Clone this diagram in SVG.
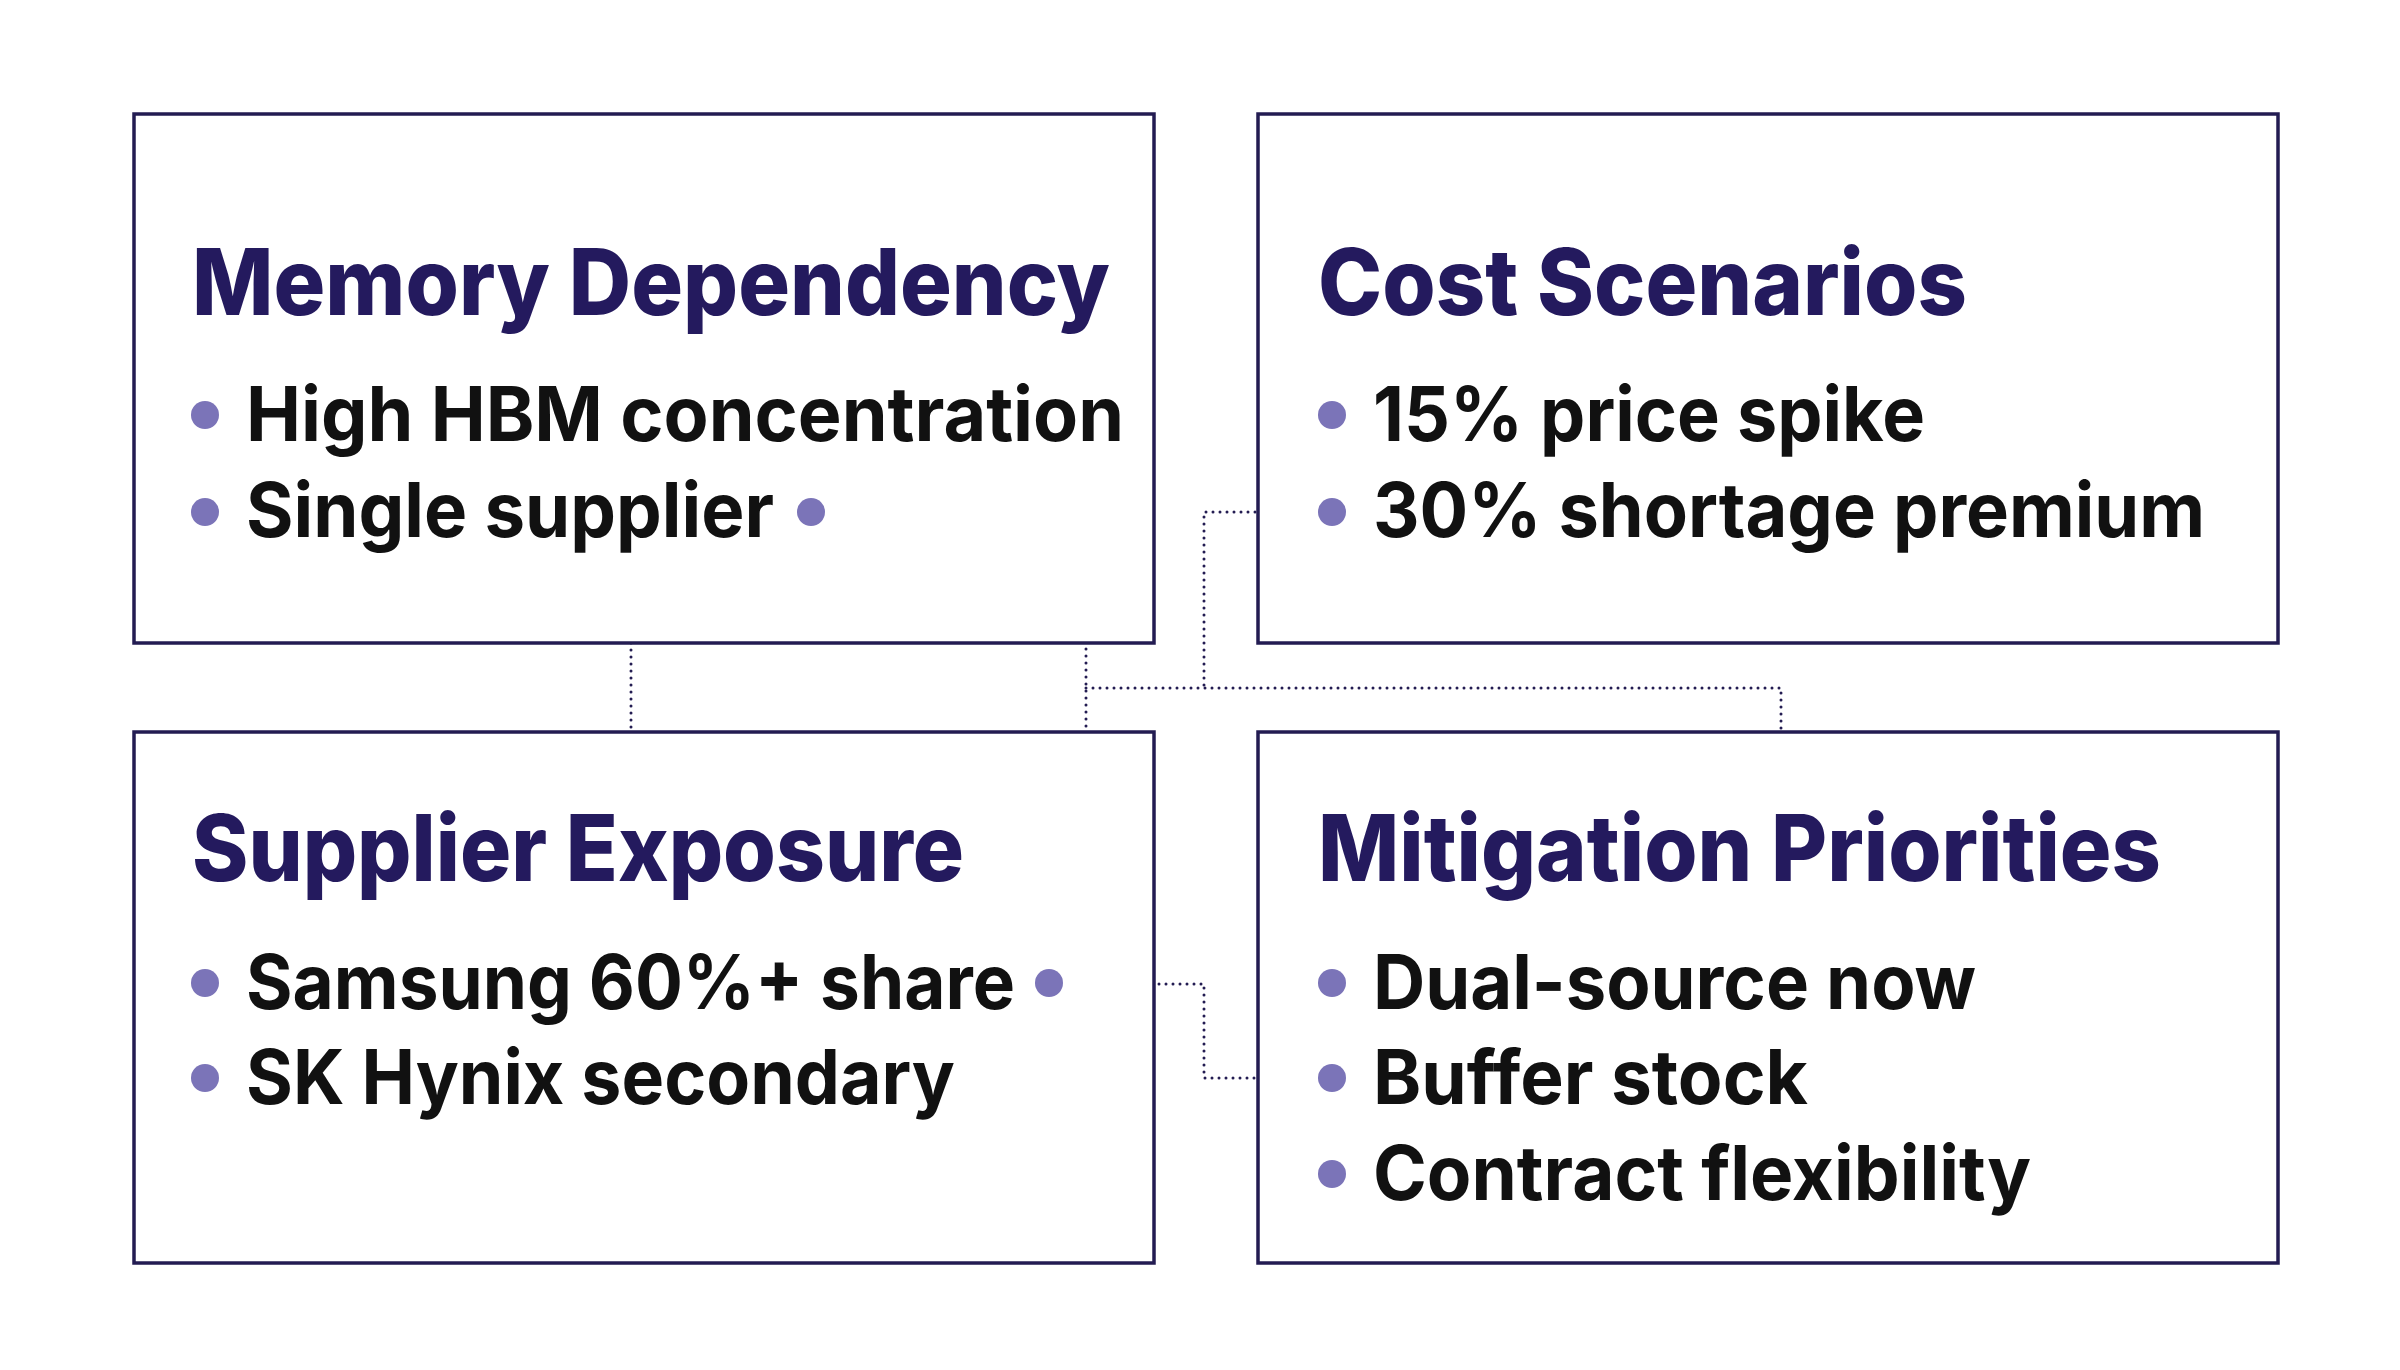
<svg xmlns="http://www.w3.org/2000/svg" width="2400" height="1370" viewBox="0 0 2400 1370">
<style>
.box{fill:#fff;stroke:#231c52;stroke-width:3.5}
.t{font-family:Inter,"Liberation Sans",sans-serif;font-weight:800;font-size:92px;fill:#241a5e}
.b{font-family:Inter,"Liberation Sans",sans-serif;font-weight:700;font-size:76px;fill:#111}
.d{fill:#7b74b8}
.c{fill:none;stroke:#231c52;stroke-width:3;stroke-dasharray:0 7;stroke-linecap:round}
</style>
<rect width="2400" height="1370" fill="#fff"/>
<g id="connectors">
<path class="c" d="M831 512H1086V984"/>
<path class="c" d="M1068 984H1204V1078H1318"/>
<path class="c" d="M1086 688H1781V732"/>
<path class="c" d="M1318 512H1204V688"/>
<path class="c" d="M631 643V732"/>
</g>
<g id="memory">
<rect class="box" x="134" y="114" width="1020" height="529"/>
<text class="t" x="192" y="315" textLength="918" lengthAdjust="spacingAndGlyphs">Memory Dependency</text>
<circle class="d" cx="205" cy="415" r="14"/><text class="b" x="246" y="441" textLength="878" lengthAdjust="spacingAndGlyphs">High HBM concentration</text>
<circle class="d" cx="205" cy="512" r="14"/><text class="b" x="246" y="537" textLength="528" lengthAdjust="spacingAndGlyphs">Single supplier</text>
<circle class="d" cx="811" cy="512" r="14"/>
</g>
<g id="cost">
<rect class="box" x="1258" y="114" width="1020" height="529"/>
<text class="t" x="1318" y="315" textLength="649" lengthAdjust="spacingAndGlyphs">Cost Scenarios</text>
<circle class="d" cx="1332" cy="415" r="14"/><text class="b" x="1373" y="441" textLength="552" lengthAdjust="spacingAndGlyphs">15% price spike</text>
<circle class="d" cx="1332" cy="512" r="14"/><text class="b" x="1373" y="537" textLength="832" lengthAdjust="spacingAndGlyphs">30% shortage premium</text>
</g>
<g id="supplier">
<rect class="box" x="134" y="732" width="1020" height="531"/>
<text class="t" x="192" y="881" textLength="772" lengthAdjust="spacingAndGlyphs">Supplier Exposure</text>
<circle class="d" cx="205" cy="983" r="14"/><text class="b" x="246" y="1009" textLength="769" lengthAdjust="spacingAndGlyphs">Samsung 60%+ share</text>
<circle class="d" cx="205" cy="1078" r="14"/><text class="b" x="246" y="1104" textLength="709" lengthAdjust="spacingAndGlyphs">SK Hynix secondary</text>
<circle class="d" cx="1049" cy="983" r="14"/>
</g>
<g id="mitigation">
<rect class="box" x="1258" y="732" width="1020" height="531"/>
<text class="t" x="1318" y="881" textLength="843" lengthAdjust="spacingAndGlyphs">Mitigation Priorities</text>
<circle class="d" cx="1332" cy="983" r="14"/><text class="b" x="1373" y="1009" textLength="603" lengthAdjust="spacingAndGlyphs">Dual-source now</text>
<circle class="d" cx="1332" cy="1078" r="14"/><text class="b" x="1373" y="1104" textLength="435" lengthAdjust="spacingAndGlyphs">Buffer stock</text>
<circle class="d" cx="1332" cy="1174" r="14"/><text class="b" x="1373" y="1200" textLength="658" lengthAdjust="spacingAndGlyphs">Contract flexibility</text>
</g>
</svg>
